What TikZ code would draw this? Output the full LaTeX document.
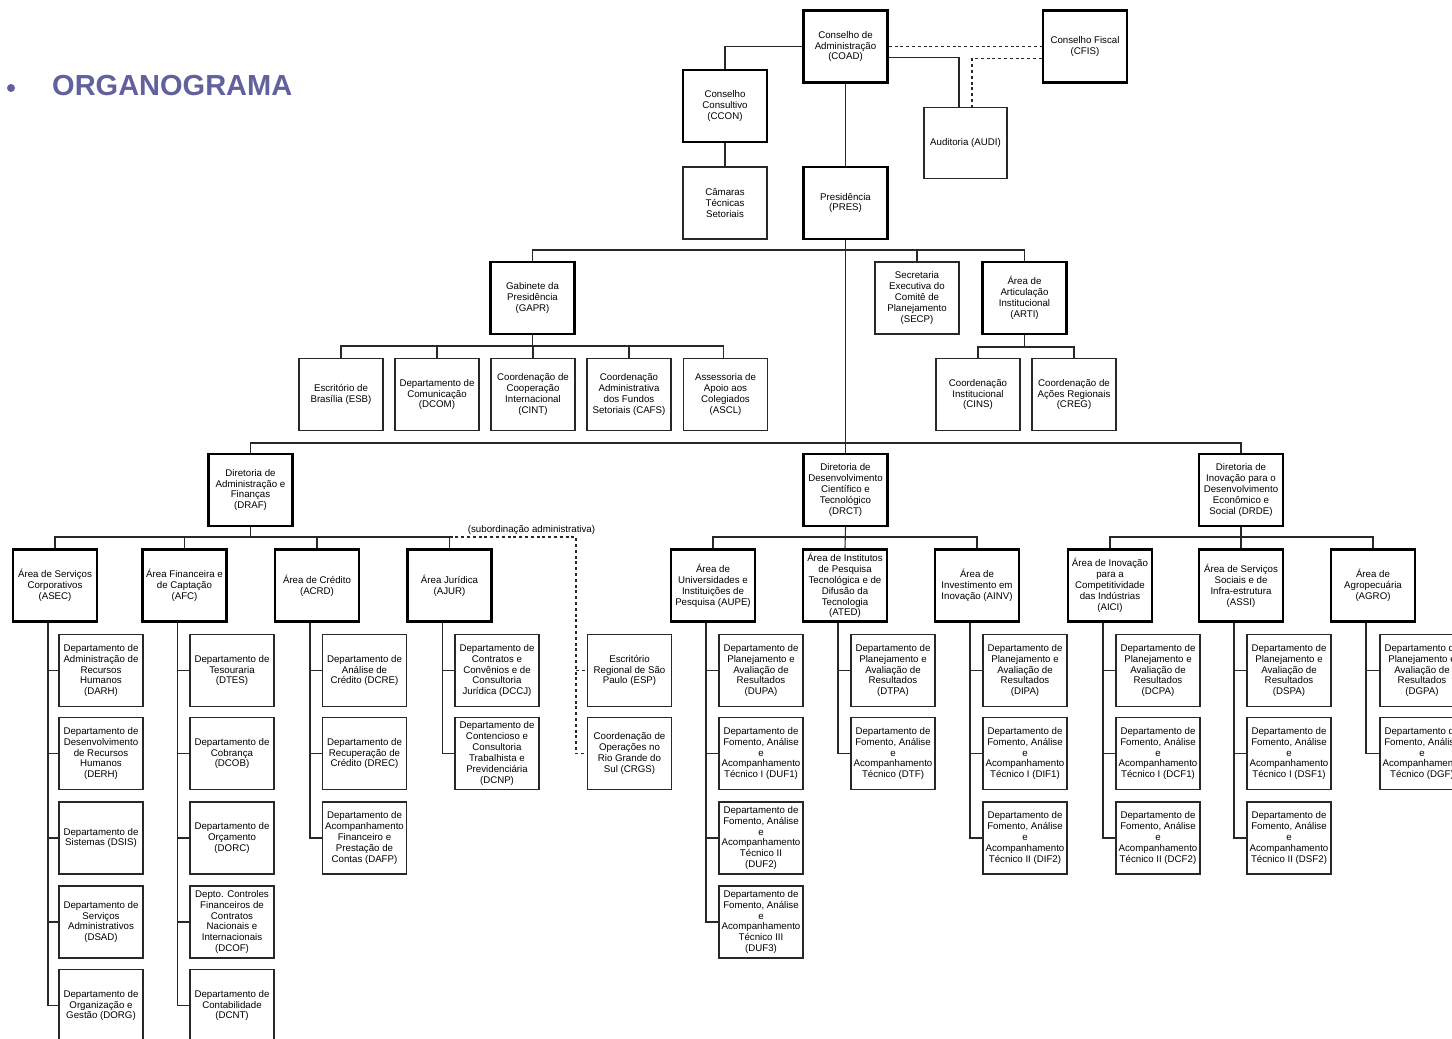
\documentclass[tikz,border=0pt]{standalone}
\usepackage{fontspec}
\setmainfont{Liberation Sans}
\definecolor{titlec}{RGB}{97,98,157}
\definecolor{linec}{RGB}{40,40,40}
\begin{document}
\begin{tikzpicture}[x=1pt,y=-1pt,
  base/.style={draw, align=center, font=\fontsize{9.7}{10.9}\selectfont, inner sep=0pt,
               minimum width=84pt, minimum height=72pt},
  thk/.style={base, line width=2.4pt, draw=black},
  thn/.style={base, line width=1.1pt, draw=linec},
  conn/.style={line width=1.1pt, draw=linec},
  dsh/.style={line width=1.1pt, draw=linec, dash pattern=on 3pt off 2.8pt},
]
\path[use as bounding box, fill=white] (0,0) rectangle (1452,1039);

% title
\node[circle, fill=titlec, inner sep=0pt, minimum size=8pt] (bul) at (11,88) {};
\node[anchor=west, inner sep=0pt, text=titlec, font=\fontsize{29}{30}\selectfont\bfseries] (title) at (52,86) {ORGANOGRAMA};

% top level
\node[thk] (COAD) at (845.5,46.5) {Conselho de\\Administração\\(COAD)};
\node[thk] (CFIS) at (1085,46.5) {Conselho Fiscal\\(CFIS)};
\node[thk] (CCON) at (725,106) {Conselho\\Consultivo\\(CCON)};
\node[thn] (CTS) at (725,203) {Câmaras\\Técnicas\\Setoriais};
\node[thk] (PRES) at (845.5,203) {Presidência\\(PRES)};
\node[thn, minimum width=83pt, minimum height=71pt] (AUDI) at (965.5,143) {Auditoria (AUDI)};

% level 2
\node[thk] (GAPR) at (532.5,298) {Gabinete da\\Presidência\\(GAPR)};
\node[thn] (ESB) at (341,394.5) {Escritório de\\Brasília (ESB)};
\node[thn] (DCOM) at (437,394.5) {Departamento de\\Comunicação\\(DCOM)};
\node[thn] (CINT) at (533,394.5) {Coordenação de\\Cooperação\\Internacional\\(CINT)};
\node[thn] (CAFS) at (629,394.5) {Coordenação\\Administrativa\\dos Fundos\\Setoriais (CAFS)};
\node[thn] (ASCL) at (725.5,394.5) {Assessoria de\\Apoio aos\\Colegiados\\(ASCL)};
\node[thn] (SECP) at (917,298) {Secretaria\\Executiva do\\Comitê de\\Planejamento\\(SECP)};
\node[thk] (ARTI) at (1024.5,298) {Área de\\Articulação\\Institucional\\(ARTI)};
\node[thn] (CINS) at (978,394.5) {Coordenação\\Institucional\\(CINS)};
\node[thn] (CREG) at (1074,394.5) {Coordenação de\\Ações Regionais\\(CREG)};

% directorates
\node[thk] (DRAF) at (250.5,490) {Diretoria de\\Administração e\\Finanças\\(DRAF)};
\node[thk] (DRCT) at (845.5,490) {Diretoria de\\Desenvolvimento\\Científico e\\Tecnológico\\(DRCT)};
\node[thk] (DRDE) at (1241,490) {Diretoria de\\Inovação para o\\Desenvolvimento\\Econômico e\\Social (DRDE)};

% areas
\node[thk] (ASEC) at (55,585.5) {Área de Serviços\\Corporativos\\(ASEC)};
\node[thk] (AFC) at (184.5,585.5) {Área Financeira e\\de Captação\\(AFC)};
\node[thk] (ACRD) at (317,585.5) {Área de Crédito\\(ACRD)};
\node[thk] (AJUR) at (449.5,585.5) {Área Jurídica\\(AJUR)};
\node[thk] (AUPE) at (713,585.5) {Área de\\Universidades e\\Instituições de\\Pesquisa (AUPE)};
\node[thk] (ATED) at (845,585.5) {Área de Institutos\\de Pesquisa\\Tecnológica e de\\Difusão da\\Tecnologia\\(ATED)};
\node[thk] (AINV) at (977,585.5) {Área de\\Investimento em\\Inovação (AINV)};
\node[thk] (AICI) at (1110,585.5) {Área de Inovação\\para a\\Competitividade\\das Indústrias\\(AICI)};
\node[thk] (ASSI) at (1241,585.5) {Área de Serviços\\Sociais e de\\Infra-estrutura\\(ASSI)};
\node[thk] (AGRO) at (1373,585.5) {Área de\\Agropecuária\\(AGRO)};

% departments ASEC
\node[thn] (DARH) at (101,670.5) {Departamento de\\Administração de\\Recursos\\Humanos\\(DARH)};
\node[thn] (DERH) at (101,753.5) {Departamento de\\Desenvolvimento\\de Recursos\\Humanos\\(DERH)};
\node[thn] (DSIS) at (101,838) {Departamento de\\Sistemas (DSIS)};
\node[thn] (DSAD) at (101,922) {Departamento de\\Serviços\\Administrativos\\(DSAD)};
\node[thn] (DORG) at (101,1005.5) {Departamento de\\Organização e\\Gestão (DORG)};
% AFC
\node[thn] (DTES) at (232,670.5) {Departamento de\\Tesouraria\\(DTES)};
\node[thn] (DCOB) at (232,753.5) {Departamento de\\Cobrança\\(DCOB)};
\node[thn] (DORC) at (232,838) {Departamento de\\Orçamento\\(DORC)};
\node[thn] (DCOF) at (232,922) {Depto. Controles\\Financeiros de\\Contratos\\Nacionais e\\Internacionais\\(DCOF)};
\node[thn] (DCNT) at (232,1005.5) {Departamento de\\Contabilidade\\(DCNT)};
% ACRD
\node[thn] (DCRE) at (364.5,670.5) {Departamento de\\Análise de\\Crédito (DCRE)};
\node[thn] (DREC) at (364.5,753.5) {Departamento de\\Recuperação de\\Crédito (DREC)};
\node[thn] (DAFP) at (364.5,838) {Departamento de\\Acompanhamento\\Financeiro e\\Prestação de\\Contas (DAFP)};
% AJUR
\node[thn] (DCCJ) at (497,670.5) {Departamento de\\Contratos e\\Convênios e de\\Consultoria\\Jurídica (DCCJ)};
\node[thn] (DCNP) at (497,753.5) {Departamento de\\Contencioso e\\Consultoria\\Trabalhista e\\Previdenciária\\(DCNP)};
% subordinação administrativa
\node[thn] (ESP) at (629.5,670.5) {Escritório\\Regional de São\\Paulo (ESP)};
\node[thn] (CRGS) at (629.5,753.5) {Coordenação de\\Operações no\\Rio Grande do\\Sul (CRGS)};
% AUPE
\node[thn] (DUPA) at (761,670.5) {Departamento de\\Planejamento e\\Avaliação de\\Resultados\\(DUPA)};
\node[thn] (DUF1) at (761,753.5) {Departamento de\\Fomento, Análise\\e\\Acompanhamento\\Técnico I (DUF1)};
\node[thn] (DUF2) at (761,838) {Departamento de\\Fomento, Análise\\e\\Acompanhamento\\Técnico II\\(DUF2)};
\node[thn] (DUF3) at (761,922) {Departamento de\\Fomento, Análise\\e\\Acompanhamento\\Técnico III\\(DUF3)};
% ATED
\node[thn] (DTPA) at (893,670.5) {Departamento de\\Planejamento e\\Avaliação de\\Resultados\\(DTPA)};
\node[thn] (DTF) at (893,753.5) {Departamento de\\Fomento, Análise\\e\\Acompanhamento\\Técnico (DTF)};
% AINV
\node[thn] (DIPA) at (1025,670.5) {Departamento de\\Planejamento e\\Avaliação de\\Resultados\\(DIPA)};
\node[thn] (DIF1) at (1025,753.5) {Departamento de\\Fomento, Análise\\e\\Acompanhamento\\Técnico I (DIF1)};
\node[thn] (DIF2) at (1025,838) {Departamento de\\Fomento, Análise\\e\\Acompanhamento\\Técnico II (DIF2)};
% AICI
\node[thn] (DCPA) at (1158,670.5) {Departamento de\\Planejamento e\\Avaliação de\\Resultados\\(DCPA)};
\node[thn] (DCF1) at (1158,753.5) {Departamento de\\Fomento, Análise\\e\\Acompanhamento\\Técnico I (DCF1)};
\node[thn] (DCF2) at (1158,838) {Departamento de\\Fomento, Análise\\e\\Acompanhamento\\Técnico II (DCF2)};
% ASSI
\node[thn] (DSPA) at (1289,670.5) {Departamento de\\Planejamento e\\Avaliação de\\Resultados\\(DSPA)};
\node[thn] (DSF1) at (1289,753.5) {Departamento de\\Fomento, Análise\\e\\Acompanhamento\\Técnico I (DSF1)};
\node[thn] (DSF2) at (1289,838) {Departamento de\\Fomento, Análise\\e\\Acompanhamento\\Técnico II (DSF2)};
% AGRO
\node[thn] (DGPA) at (1422,670.5) {Departamento de\\Planejamento e\\Avaliação de\\Resultados\\(DGPA)};
\node[thn] (DGF) at (1422,753.5) {Departamento de\\Fomento, Análise\\e\\Acompanhamento\\Técnico (DGF)};

% ---------- connectors ----------
\draw[conn] (COAD.west) -| (CCON.north);
\draw[conn] (CCON.south) -- (CTS.north);
\draw[conn] (COAD.south) -- (PRES.north);
\draw[conn] ([yshift=-11pt]COAD.east) -| ([xshift=-6.5pt]AUDI.north);
\draw[dsh] (COAD.east) -- (CFIS.west);
\draw[dsh] ([yshift=-12pt]CFIS.west) -| ([xshift=6.5pt]AUDI.north);

\coordinate (bus2) at (845.5,250);
\draw[conn] (PRES.south) -- (DRCT.north);
\draw[conn] (GAPR.north) |- (bus2) -| (ARTI.north);
\draw[conn] (SECP.north) -- (SECP.north |- bus2);

\coordinate (gbus) at (532.5,346);
\draw[conn] (GAPR.south) -- (gbus);
\draw[conn] (ESB.north) |- (gbus) -| ([xshift=-2pt]ASCL.north);
\draw[conn] (DCOM.north) -- (DCOM.north |- gbus);
\draw[conn] (CINT.north) -- (CINT.north |- gbus);
\draw[conn] (CAFS.north) -- (CAFS.north |- gbus);

\coordinate (abus) at (1024.5,347);
\draw[conn] (ARTI.south) -- (abus);
\draw[conn] (CINS.north) |- (abus) -| (CREG.north);

\coordinate (dbus) at (845.5,443);
\draw[conn] (DRAF.north) |- (dbus) -| (DRDE.north);

\coordinate (drafbus) at (250.5,537);
\draw[conn] (DRAF.south) -- (drafbus);
\draw[conn] (ASEC.north) |- (drafbus) -| (AJUR.north);
\draw[conn] (AFC.north) -- (AFC.north |- drafbus);
\draw[conn] (ACRD.north) -- (ACRD.north |- drafbus);

\coordinate (drctbus) at (845.5,537);
\draw[conn] (DRCT.south) -- (ATED.north);
\draw[conn] (AUPE.north) |- (drctbus) -| (AINV.north);

\coordinate (drdebus) at (1241,537);
\draw[conn] (DRDE.south) -- (ASSI.north);
\draw[conn] (AICI.north) |- (drdebus) -| (AGRO.north);

% subordinação administrativa
\coordinate (sub1) at (576,537);
\draw[dsh] (AJUR.north |- drafbus) -- (sub1) |- (CRGS.west);
\draw[dsh] (sub1 |- ESP.west) -- (ESP.west);
\node[font=\fontsize{9.7}{10.9}\selectfont, inner sep=0pt] (sublbl) at (531.5,530) {(subordinação administrativa)};

% department links
\newcommand\deptlink[2]{\draw[conn] ([xshift=-7pt]#1.south) |- (#2.west);}
\foreach \d in {DARH,DERH,DSIS,DSAD,DORG}{\deptlink{ASEC}{\d}}
\foreach \d in {DTES,DCOB,DORC,DCOF,DCNT}{\deptlink{AFC}{\d}}
\foreach \d in {DCRE,DREC,DAFP}{\deptlink{ACRD}{\d}}
\foreach \d in {DCCJ,DCNP}{\deptlink{AJUR}{\d}}
\foreach \d in {DUPA,DUF1,DUF2,DUF3}{\deptlink{AUPE}{\d}}
\foreach \d in {DTPA,DTF}{\deptlink{ATED}{\d}}
\foreach \d in {DIPA,DIF1,DIF2}{\deptlink{AINV}{\d}}
\foreach \d in {DCPA,DCF1,DCF2}{\deptlink{AICI}{\d}}
\foreach \d in {DSPA,DSF1,DSF2}{\deptlink{ASSI}{\d}}
\foreach \d in {DGPA,DGF}{\deptlink{AGRO}{\d}}
\end{tikzpicture}
\end{document}
